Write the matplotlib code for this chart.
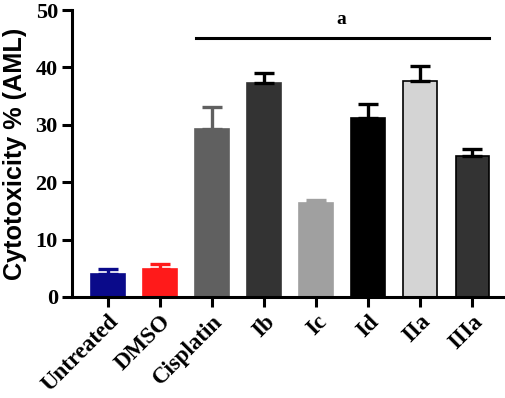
import numpy as np
import matplotlib
matplotlib.use("Agg")
import matplotlib.pyplot as plt
import matplotlib.transforms as mtransforms

# Values
groups = ["Untreated", "DMSO", "Cisplatin", "Ib", "Ic", "Id", "IIa", "IIIa"]
means = [4.0, 4.9, 29.3, 37.3, 16.4, 31.2, 37.6, 24.6]
errors = [0.9, 0.8, 3.8, 1.8, 0.5, 2.5, 2.7, 1.1]
colors = ["#0a0a8a", "#ff1a1a", "#606060", "#333333", "#a0a0a0", "#000000", "#d4d4d4", "#333333"]
edge_colors = ["#0a0a8a", "#ff1a1a", "#606060", "#333333", "#a0a0a0", "#000000", "#000000", "#000000"]
err_colors = ["#0a0a8a", "#ff1a1a", "#606060", "#000000", "#a0a0a0", "#000000", "#000000", "#000000"]
yticks = [0, 10, 20, 30, 40, 50]

serif = "Liberation Serif"
sans = "Liberation Sans"

fig = plt.figure(figsize=(5.06, 3.98), dpi=100)
ax = fig.add_axes([72 / 506, 1 - 297 / 398, (506 - 72) / 506, 287 / 398])

x = np.arange(len(groups))
ax.bar(x, means, width=0.64, color=colors, edgecolor=edge_colors, linewidth=1.2, zorder=2)
for xi, m, e, c in zip(x, means, errors, err_colors):
    ax.errorbar(xi, m, yerr=[[0], [e]], fmt="none", ecolor=c, elinewidth=2.4,
                capsize=7.5, capthick=2.4, zorder=3)

# significance bar over the treated groups
ax.plot([2 - 0.3, 7 + 0.33], [45.2, 45.2], color="black", lw=2.2, clip_on=False)
ax.text(4.49, 46.9, "a", ha="center", va="bottom", fontsize=14,
        fontfamily=serif, fontweight="bold")

ax.set_xlim(-0.69, 7.65)
ax.set_ylim(0, 50)
ax.set_yticks(yticks)
ax.set_xticks(x)
ax.set_xticklabels(groups, rotation=45, ha="right", rotation_mode="anchor",
                   fontsize=16.5, fontfamily=serif, fontweight="bold")
# nudge rotated labels right/down like the original
shift = mtransforms.ScaledTranslation(7 / 100, -3 / 100, fig.dpi_scale_trans)
for lab in ax.get_xticklabels():
    lab.set_transform(lab.get_transform() + shift)
for lab in ax.get_yticklabels():
    lab.set_fontfamily(serif)
    lab.set_fontweight("bold")
    lab.set_fontsize(16)

ax.spines["top"].set_visible(False)
ax.spines["right"].set_visible(False)
ax.spines["left"].set_linewidth(2.2)
ax.spines["bottom"].set_linewidth(2.2)
ax.tick_params(axis="both", width=2.2, length=7.2, direction="out", pad=3)

ax.set_ylabel("Cytotoxicity % (AML)", fontsize=18.2, fontfamily=sans,
              fontweight="bold", labelpad=6)

fig.savefig("out.png", dpi=100)
